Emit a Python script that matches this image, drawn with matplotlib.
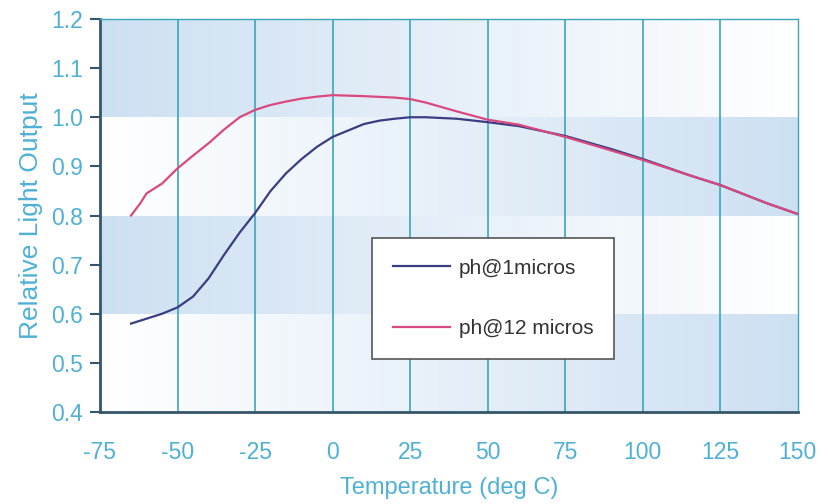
import numpy as np
import matplotlib
matplotlib.use('Agg')
from matplotlib import pyplot as plt
from matplotlib.colors import LinearSegmentedColormap

plt.rcParams['font.family'] = ['Liberation Sans', 'DejaVu Sans']
plt.rcParams['axes.unicode_minus'] = False

# data
temp_1us = [-65, -60, -55, -50, -45, -40, -35, -30, -25, -20, -15, -10, -5, 0, 5, 10, 15, 20, 25, 30, 40, 50, 60, 75, 90, 100, 115, 125, 140, 150]
out_1us = [0.58, 0.59, 0.60, 0.613, 0.635, 0.672, 0.72, 0.765, 0.805, 0.85, 0.886, 0.915, 0.94, 0.96, 0.973, 0.986, 0.993, 0.997, 1.0, 1.0, 0.997, 0.99, 0.982, 0.962, 0.935, 0.915, 0.882, 0.862, 0.825, 0.803]

temp_12us = [-65, -62, -60, -55, -50, -45, -40, -35, -30, -25, -20, -15, -10, -5, 0, 10, 20, 25, 30, 40, 50, 60, 75, 90, 100, 115, 125, 140, 150]
out_12us = [0.80, 0.825, 0.845, 0.865, 0.896, 0.922, 0.947, 0.975, 1.0, 1.015, 1.025, 1.032, 1.038, 1.042, 1.045, 1.043, 1.04, 1.037, 1.03, 1.012, 0.995, 0.985, 0.96, 0.932, 0.913, 0.882, 0.862, 0.825, 0.803]

x_ticks = [-75, -50, -25, 0, 25, 50, 75, 100, 125, 150]
y_ticks = [0.4, 0.5, 0.6, 0.7, 0.8, 0.9, 1.0, 1.1, 1.2]
band_edges = [0.4, 0.6, 0.8, 1.0, 1.2]

label_col = '#4fb0d6'
grid_col = '#3aa6b8'
spine_col = '#35566a'

fig = plt.figure(figsize=(8.21, 5.04), dpi=100)
ax = fig.add_axes([0.1218, 0.1825, 0.850, 0.7798])

# gradient background bands
cmap = LinearSegmentedColormap.from_list('band', ['#ffffff', '#cde0f2'])
ramp = np.linspace(0, 1, 256).reshape(1, -1)
for i in range(len(band_edges) - 1):
    img = ramp if i % 2 == 0 else ramp[:, ::-1]
    ax.imshow(img, cmap=cmap, vmin=0, vmax=1, aspect='auto',
              extent=[-75, 150, band_edges[i], band_edges[i + 1]], zorder=0)

ax.set_xlim(-75, 150)
ax.set_ylim(0.4, 1.2)

for xt in x_ticks[1:-1]:
    ax.axvline(xt, color=grid_col, lw=1.2, zorder=1)

ax.plot(temp_1us, out_1us, color='#3b3d82', lw=1.6, label='ph@1micros', zorder=3)
ax.plot(temp_12us, out_12us, color='#d9497f', lw=1.6, label='ph@12 micros', zorder=4)

ax.set_xticks(x_ticks)
ax.set_yticks(y_ticks)
ax.set_yticklabels(['%.1f' % v for v in y_ticks])
ax.tick_params(axis='x', length=0, pad=21, labelsize=16.5, labelcolor=label_col)
ax.tick_params(axis='y', length=7, width=1.5, color=spine_col, pad=5, labelsize=16.5, labelcolor=label_col)

for s in ['left', 'bottom']:
    ax.spines[s].set_color(spine_col)
    ax.spines[s].set_linewidth(2)
for s in ['top', 'right']:
    ax.spines[s].set_color(grid_col)
    ax.spines[s].set_linewidth(1)

ax.set_xlabel('Temperature (deg C)', color=label_col, fontsize=17, labelpad=9)
ax.set_ylabel('Relative Light Output', color=label_col, fontsize=19, labelpad=6)

leg = ax.legend(loc='upper left', bbox_to_anchor=(0.39, 0.443), fontsize=15,
                frameon=True, fancybox=False, handlelength=2.75, handletextpad=0.4,
                labelspacing=2.0, borderpad=1.0, borderaxespad=0, labelcolor='#333333')
leg.get_frame().set_edgecolor('#555555')
leg.get_frame().set_linewidth(1.2)
leg.get_frame().set_alpha(1)
leg.set_zorder(5)

fig.savefig('out.png', dpi=100)
